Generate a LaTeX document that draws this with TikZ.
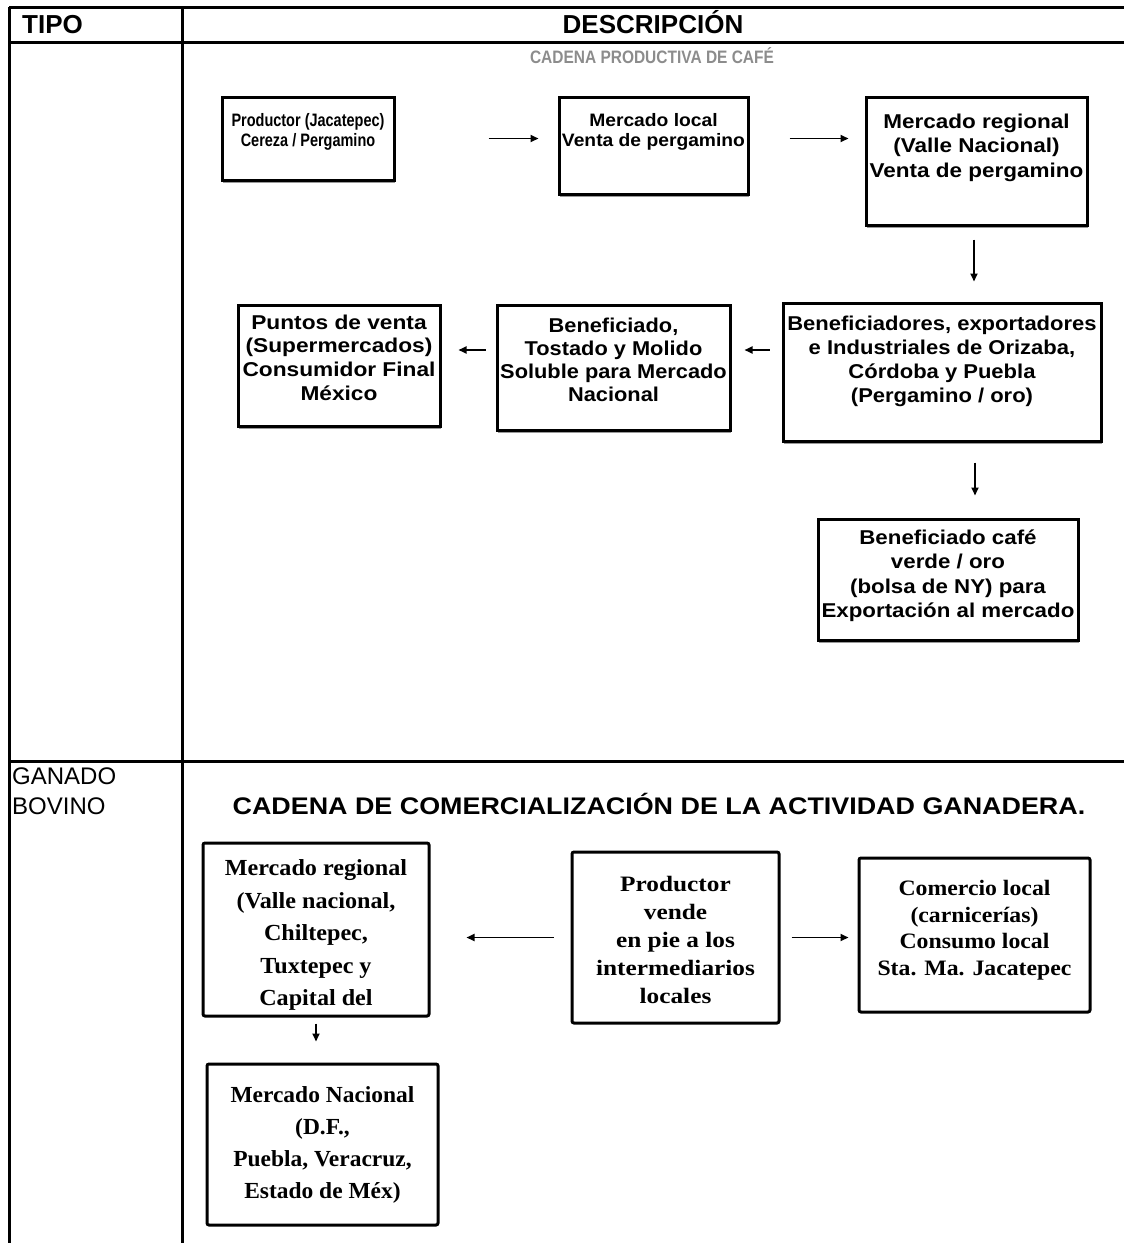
\documentclass[tikz,border=0pt]{standalone}
\usepackage{fontspec}
\setmainfont{Liberation Sans}
\newfontfamily\tnr{Liberation Serif}
\usepackage{graphicx}
\usetikzlibrary{arrows.meta,shadows}
\newcommand{\bx}[6]{\parbox[c][#2][t]{#1}{\centering\vspace*{#3}\scalebox{#4}[1]{#5\begin{tabular}[t]{@{}c@{}}#6\end{tabular}}}}
\newcommand{\cfont}[2]{\fontsize{#1}{#2}\selectfont\bfseries}
\newcommand{\bfont}[2]{\tnr\fontsize{#1}{#2}\selectfont\bfseries}
\definecolor{titlegray}{HTML}{8C8C8C}
\tikzset{
  grid/.style={line width=3pt},
  cbox/.style={draw, line width=3pt, inner sep=0pt, fill=white,
    drop shadow={shadow xshift=0.5pt, shadow yshift=-2.5pt, fill=black!40, opacity=1}},
  bbox/.style={draw, line width=3pt, inner sep=0pt, fill=white, rounded corners=2pt},
  arr/.style={line width=1.8pt, -{Triangle[length=8pt,width=7pt]}},
  hdr/.style={font=\fontsize{26}{30}\selectfont\bfseries, inner sep=0pt},
  rowlbl/.style={font=\fontsize{24}{28}\selectfont, anchor=base west, inner sep=0pt}
}
\begin{document}
\begin{tikzpicture}[x=1pt,y=-1pt]
\useasboundingbox (0,0) rectangle (1124,1243);
% table grid
\draw[grid] (9,7) -- (1124,7);
\draw[grid] (9,42) -- (1124,42);
\draw[grid] (9,761) -- (1124,761);
\draw[grid] (9,7) -- (9,1243);
\draw[grid] (182,7) -- (182,1243);
% headers
\node[hdr, anchor=base west] (tipo) at (22,33.5) {TIPO};
\node[hdr, anchor=base] (desc) at (653,33.5) {DESCRIPCIÓN};
\node[anchor=base, text=titlegray, inner sep=0pt] (cafe) at (652,63.5) {\scalebox{0.86}[1]{\fontsize{18}{20}\selectfont\bfseries CADENA PRODUCTIVA DE CAFÉ}};
% coffee chain
\node[cbox] (b1) at (308,138.5) {\bx{172pt}{83pt}{15.5pt}{0.805}{\cfont{18}{20}}{Productor (Jacatepec)\\Cereza / Pergamino}};
\node[cbox] (b2) at (653.5,145.5) {\bx{189pt}{97pt}{15.5pt}{1.07}{\cfont{18}{20}}{Mercado local\\Venta de pergamino}};
\node[cbox] (b3) at (976.5,161) {\bx{221pt}{128pt}{14pt}{1.125}{\cfont{20}{24.5}}{Mercado regional\\(Valle Nacional)\\Venta de pergamino}};
\node[cbox] (b4) at (942,372) {\bx{318pt}{138pt}{10.4pt}{1.10}{\cfont{20}{24}}{Beneficiadores, exportadores\\e Industriales de Orizaba,\\Córdoba y Puebla\\(Pergamino / oro)}};
\node[cbox] (b5) at (613.5,367.5) {\bx{233pt}{125pt}{11.1pt}{1.09}{\cfont{20}{23}}{Beneficiado,\\Tostado y Molido\\Soluble para Mercado\\Nacional}};
\node[cbox] (b6) at (339,365.5) {\bx{202pt}{121pt}{7.6pt}{1.135}{\cfont{20}{23.7}}{Puntos de venta\\(Supermercados)\\Consumidor Final\\México}};
\node[cbox] (b7) at (948,579.5) {\bx{260pt}{121pt}{8pt}{1.115}{\cfont{20}{24.5}}{Beneficiado café\\verde / oro\\(bolsa de NY) para\\Exportación al mercado}};
\draw[arr, shorten <=93pt, shorten >=19pt] (b1.east) -- (b1.east -| b2.west);
\draw[arr, shorten <=40pt, shorten >=16pt] (b2.east |- b1.east) -- (b3.west |- b1.east);
\draw[arr, shorten <=13pt, shorten >=20pt] ([xshift=-2.5pt]b3.south) -- ([xshift=-2.5pt]b3.south |- b4.north);
\draw[arr, shorten <=12pt, shorten >=13pt] ([yshift=22pt]b4.west) -- ([yshift=22pt]b4.west -| b5.east);
\draw[arr, shorten <=10pt, shorten >=17pt] ([yshift=17.5pt]b5.west) -- ([yshift=17.5pt]b5.west -| b6.east);
\draw[arr, shorten <=20pt, shorten >=22pt] ([xshift=33pt]b4.south) -- ([xshift=33pt]b4.south |- b7.north);
% bovine
\node[rowlbl] (ganado) at (12,784.6) {GANADO};
\node[rowlbl] (bovino) at (12,814.6) {BOVINO};
\node[anchor=base, inner sep=0pt] (btitle) at (659,814.6) {\scalebox{1.12}[1]{\fontsize{24}{28}\selectfont\bfseries CADENA DE COMERCIALIZACIÓN DE LA ACTIVIDAD GANADERA.}};
\node[bbox] (b8) at (316,929.5) {\bx{226pt}{173pt}{9.85pt}{1.05}{\bfont{23}{32.5}}{Mercado regional\\(Valle nacional,\\Chiltepec,\\Tuxtepec y\\Capital del}};
\node[bbox] (b9) at (675.5,937.5) {\bx{207pt}{171pt}{19.7pt}{1.15}{\bfont{22}{28}}{Productor\\vende\\en pie a los\\intermediarios\\locales}};
\node[bbox] (b10) at (974.5,935) {\bx{231pt}{154pt}{18.6pt}{1.08}{\bfont{22}{26.7}}{Comercio local\\(carnicerías)\\Consumo local\\Sta. Ma. Jacatepec}};
\node[bbox] (b11) at (322.5,1144.5) {\bx{231pt}{161pt}{16.2pt}{1.02}{\bfont{23}{32}}{Mercado Nacional\\(D.F.,\\Puebla, Veracruz,\\Estado de Méx)}};
\draw[arr, shorten <=17pt, shorten >=36pt] (b9.west) -- (b9.west -| b8.east);
\draw[arr, shorten <=11pt, shorten >=9pt] (b9.east) -- (b9.east -| b10.west);
\draw[arr, shorten <=6pt, shorten >=21pt] (b8.south) -- (b8.south |- b11.north);
\end{tikzpicture}
\end{document}
